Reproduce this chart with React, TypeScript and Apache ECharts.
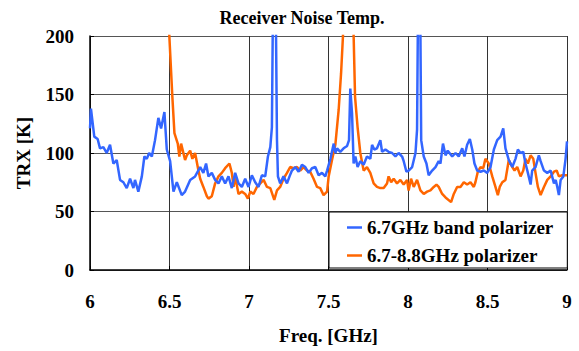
import React, { useEffect, useRef } from "react";
import * as echarts from "echarts";

const xTicks = [6, 6.5, 7, 7.5, 8, 8.5, 9];
const yTicks = [0, 50, 100, 150, 200];
const seriesNames = ["6.7GHz band polarizer", "6.7-8.8GHz polarizer"];

// [freq GHz, TRX K]
const bandPolarizer: number[][] = [
  [6.0, 121], [6.006, 138], [6.027, 114], [6.048, 112], [6.063, 104], [6.084, 105], [6.105, 100],
  [6.126, 107], [6.147, 91], [6.168, 94], [6.189, 77], [6.21, 75], [6.231, 70], [6.252, 78],
  [6.273, 70], [6.283, 77], [6.304, 67], [6.326, 80], [6.342, 97], [6.357, 95], [6.372, 100],
  [6.389, 97], [6.409, 111], [6.43, 130], [6.447, 121], [6.468, 135], [6.483, 103], [6.504, 93],
  [6.525, 67], [6.546, 75], [6.577, 64], [6.598, 67], [6.63, 77], [6.661, 80], [6.693, 88],
  [6.713, 83], [6.73, 91], [6.745, 80], [6.766, 83], [6.787, 77], [6.808, 74], [6.829, 80],
  [6.85, 74], [6.871, 80], [6.892, 70], [6.913, 83], [6.934, 74], [6.955, 71], [6.976, 78],
  [6.997, 71], [7.018, 81], [7.039, 75], [7.06, 71], [7.081, 81], [7.102, 80], [7.119, 97],
  [7.134, 105], [7.144, 122], [7.153, 260], [7.166, 260], [7.176, 111], [7.182, 80], [7.196, 74],
  [7.217, 80], [7.239, 74], [7.255, 80], [7.27, 85], [7.291, 88], [7.312, 84], [7.333, 90],
  [7.354, 88], [7.375, 83], [7.396, 87], [7.417, 88], [7.438, 81], [7.459, 83], [7.48, 80],
  [7.491, 85], [7.512, 95], [7.533, 108], [7.543, 100], [7.554, 104], [7.574, 101], [7.595, 104],
  [7.617, 106], [7.629, 111], [7.637, 155], [7.648, 134], [7.658, 91], [7.669, 97], [7.683, 88],
  [7.7, 93], [7.721, 90], [7.742, 97], [7.763, 95], [7.774, 107], [7.788, 103], [7.805, 104],
  [7.826, 111], [7.837, 101], [7.858, 103], [7.878, 101], [7.9, 100], [7.921, 97], [7.941, 100],
  [7.963, 97], [7.973, 93], [7.99, 84], [8.004, 85], [8.026, 88], [8.047, 100], [8.057, 120],
  [8.065, 260], [8.075, 260], [8.083, 111], [8.099, 97], [8.116, 91], [8.13, 81], [8.152, 85],
  [8.173, 88], [8.193, 93], [8.204, 91], [8.22, 108], [8.236, 98], [8.25, 102], [8.278, 97],
  [8.299, 100], [8.319, 97], [8.341, 104], [8.355, 97], [8.372, 107], [8.389, 112], [8.404, 103],
  [8.418, 91], [8.435, 85], [8.456, 84], [8.477, 85], [8.498, 83], [8.519, 88], [8.54, 103],
  [8.561, 111], [8.582, 114], [8.599, 121], [8.613, 104], [8.634, 94], [8.656, 88], [8.676, 95],
  [8.691, 103], [8.708, 100], [8.725, 101], [8.739, 91], [8.754, 83], [8.771, 73], [8.781, 85],
  [8.802, 88], [8.823, 98], [8.834, 93], [8.855, 85], [8.876, 83], [8.897, 85], [8.918, 74],
  [8.929, 77], [8.939, 71], [8.949, 64], [8.96, 77], [8.977, 80], [8.991, 95], [9.0, 110],
];

const widebandPolarizer: number[][] = [
  [6.488, 230], [6.518, 148], [6.531, 117], [6.552, 108], [6.562, 97], [6.573, 108], [6.598, 94],
  [6.609, 98], [6.63, 102], [6.644, 95], [6.661, 100], [6.682, 85], [6.693, 78], [6.713, 71],
  [6.735, 63], [6.745, 61], [6.766, 63], [6.787, 74], [6.808, 80], [6.829, 83], [6.85, 87],
  [6.877, 91], [6.892, 83], [6.903, 71], [6.913, 80], [6.934, 65], [6.955, 67], [6.976, 65],
  [6.993, 61], [7.008, 67], [7.028, 65], [7.05, 71], [7.071, 74], [7.092, 77], [7.113, 71],
  [7.134, 70], [7.159, 60], [7.176, 68], [7.196, 71], [7.217, 78], [7.239, 83], [7.259, 88],
  [7.28, 87], [7.302, 88], [7.322, 85], [7.343, 88], [7.365, 85], [7.385, 84], [7.406, 78],
  [7.428, 71], [7.448, 70], [7.469, 64], [7.491, 67], [7.501, 80], [7.522, 94], [7.543, 107],
  [7.564, 137], [7.579, 168], [7.591, 200], [7.605, 300], [7.63, 260], [7.645, 300],
  [7.653, 230], [7.667, 148], [7.683, 122], [7.7, 100], [7.721, 85], [7.742, 88], [7.763, 83],
  [7.784, 74], [7.805, 71], [7.826, 70], [7.847, 70], [7.868, 74], [7.878, 80], [7.894, 75],
  [7.91, 78], [7.931, 74], [7.952, 77], [7.973, 73], [7.994, 77], [8.004, 68], [8.019, 78],
  [8.036, 71], [8.057, 77], [8.078, 68], [8.099, 65], [8.12, 67], [8.141, 68], [8.162, 71],
  [8.179, 73], [8.193, 71], [8.215, 65], [8.236, 62], [8.271, 58], [8.288, 65], [8.309, 71],
  [8.33, 71], [8.351, 75], [8.372, 73], [8.393, 75], [8.414, 71], [8.424, 75], [8.439, 84],
  [8.456, 88], [8.473, 87], [8.487, 95], [8.508, 91], [8.53, 80], [8.55, 71], [8.565, 64],
  [8.577, 71], [8.593, 75], [8.613, 77], [8.634, 94], [8.656, 88], [8.67, 85], [8.687, 88],
  [8.708, 80], [8.725, 85], [8.739, 95], [8.754, 91], [8.771, 98], [8.788, 95], [8.802, 83],
  [8.817, 71], [8.834, 64], [8.855, 71], [8.876, 77], [8.897, 80], [8.918, 84], [8.935, 85],
  [8.949, 80], [8.97, 81], [9.0, 81],
];

const FONT = "Liberation Serif";

export default function App() {
  const ref = useRef<HTMLDivElement>(null);
  useEffect(() => {
    if (!ref.current) return;
    const chart = echarts.init(ref.current, null, { renderer: "svg" });
    const txt = { fontFamily: FONT, fontWeight: "bold", fontSize: 19, color: "#000" };
    chart.setOption({
      animation: false,
      backgroundColor: "#fff",
      title: {
        text: "Receiver Noise Temp.",
        left: 297,
        textAlign: "center",
        top: 4,
        textStyle: { ...txt, fontSize: 18 },
      },
      grid: { left: 90, right: 12, top: 36, bottom: 81, outerBoundsMode: "none", containLabel: false },
      legend: {
        data: seriesNames,
        orient: "vertical",
        left: 329,
        top: 212,
        backgroundColor: "#fff",
        borderColor: "#000",
        borderWidth: 1,
        borderRadius: 0,
        padding: [6, 14, 3, 18],
        itemGap: 9,
        itemWidth: 15,
        itemHeight: 2.5,
        icon: "rect",
        textStyle: { ...txt },
      },
      xAxis: {
        type: "value",
        min: xTicks[0],
        max: xTicks[xTicks.length - 1],
        interval: 0.5,
        name: "Freq. [GHz]",
        nameLocation: "middle",
        nameGap: 56,
        nameTextStyle: { ...txt },
        axisLine: { show: true, lineStyle: { color: "#000", width: 1.5 } },
        axisTick: { show: true, inside: true, length: 4, lineStyle: { color: "#000" } },
        axisLabel: { ...txt, margin: 22, formatter: (v: number) => String(v) },
        splitLine: { show: true, lineStyle: { color: "#333", width: 1 } },
      },
      yAxis: {
        type: "value",
        min: yTicks[0],
        max: yTicks[yTicks.length - 1],
        interval: 50,
        name: "TRX [K]",
        nameLocation: "middle",
        nameRotate: 90,
        nameGap: 57,
        nameTextStyle: { ...txt },
        axisLine: { show: true, lineStyle: { color: "#000", width: 1.5 } },
        axisTick: { show: true, inside: true, length: 4, lineStyle: { color: "#000" } },
        axisLabel: { ...txt, margin: 16 },
        splitLine: { show: true, lineStyle: { color: "#555", width: 1 } },
      },
      series: [
        {
          name: seriesNames[0],
          type: "line",
          data: bandPolarizer,
          showSymbol: false,
          symbol: "none",
          clip: true,
          color: "#3366FF",
          lineStyle: { color: "#3366FF", width: 2.5 },
          z: 3,
        },
        {
          name: seriesNames[1],
          type: "line",
          data: widebandPolarizer,
          showSymbol: false,
          symbol: "none",
          clip: true,
          color: "#FF6600",
          lineStyle: { color: "#FF6600", width: 2.5 },
          z: 2,
        },
      ],
    });
    return () => chart.dispose();
  }, []);
  return (
    <div
      ref={ref}
      style={{ position: "absolute", left: 0, top: 0, width: 579, height: 351 }}
    />
  );
}
